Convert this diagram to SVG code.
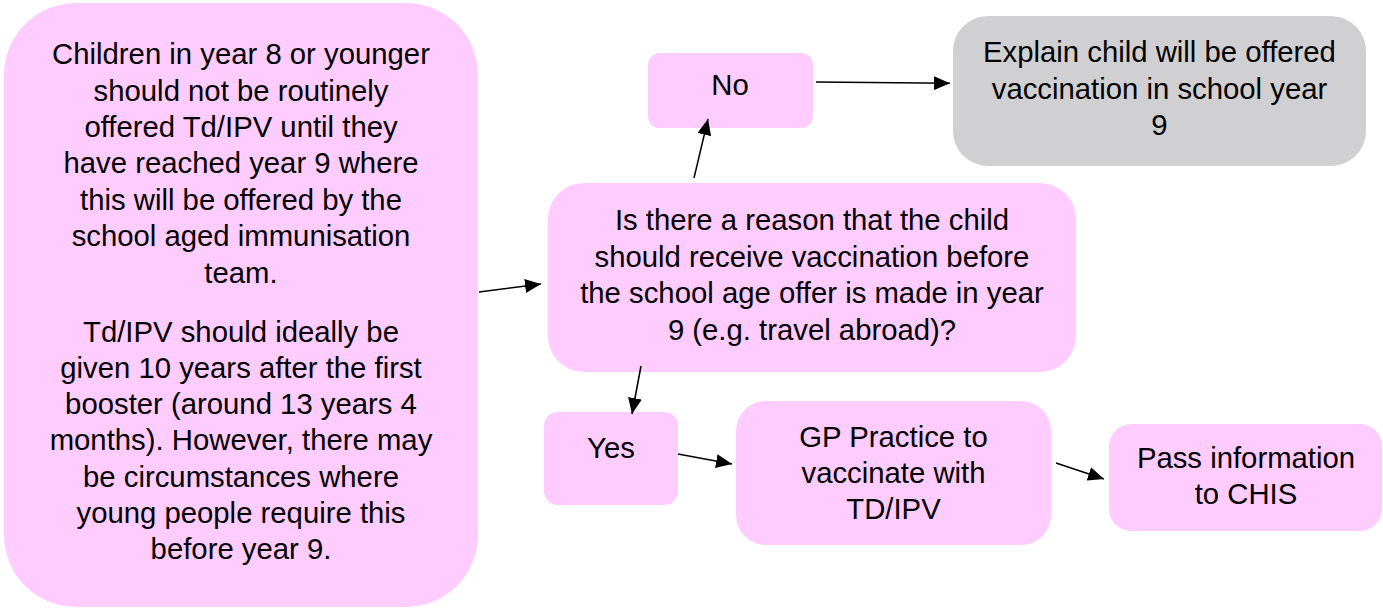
<svg xmlns="http://www.w3.org/2000/svg" width="1383" height="609" viewBox="0 0 1383 609">
<style>
.pink{fill:#ffccff;}
.gray{fill:#d0cfd1;}
text{font-family:"Liberation Sans",Arial,sans-serif;font-size:29.3px;fill:#000;text-anchor:middle;}
.conn line{stroke:#000;stroke-width:1.5;marker-end:url(#ah);}
</style>
<defs>
<marker id="ah" markerUnits="userSpaceOnUse" markerWidth="16" markerHeight="14" refX="16" refY="7" orient="auto">
<path d="M0,0 L16,7 L0,14 z" fill="#000"/>
</marker>
</defs>
<rect width="1383" height="609" fill="#fff"/>
<g id="node-info">
<rect class="pink" x="4" y="3" width="474" height="604" rx="72" ry="72"/>
<text x="241" y="64">Children in year 8 or younger</text>
<text x="241" y="101">should not be routinely</text>
<text x="241" y="137">offered Td/IPV until they</text>
<text x="241" y="173">have reached year 9 where</text>
<text x="241" y="210">this will be offered by the</text>
<text x="241" y="246">school aged immunisation</text>
<text x="241" y="283">team.</text>
<text x="241" y="342">Td/IPV should ideally be</text>
<text x="241" y="378">given 10 years after the first</text>
<text x="241" y="414">booster (around 13 years 4</text>
<text x="241" y="450">months). However, there may</text>
<text x="241" y="487">be circumstances where</text>
<text x="241" y="523">young people require this</text>
<text x="241" y="559">before year 9.</text>
</g>
<g id="node-question">
<rect class="pink" x="548" y="183" width="528" height="189" rx="36" ry="36"/>
<text x="812" y="230">Is there a reason that the child</text>
<text x="812" y="267">should receive vaccination before</text>
<text x="812" y="303">the school age offer is made in year</text>
<text x="812" y="340">9 (e.g. travel abroad)?</text>
</g>
<g id="node-no">
<rect class="pink" x="648" y="53" width="165" height="75" rx="12" ry="12"/>
<text x="730" y="95">No</text>
</g>
<g id="node-explain">
<rect class="gray" x="953" y="16" width="413" height="150" rx="35" ry="35"/>
<text x="1159.5" y="62">Explain child will be offered</text>
<text x="1159.5" y="99">vaccination in school year</text>
<text x="1159.5" y="135">9</text>
</g>
<g id="node-yes">
<rect class="pink" x="544" y="412" width="134" height="93" rx="14" ry="14"/>
<text x="611" y="458">Yes</text>
</g>
<g id="node-gp">
<rect class="pink" x="736" y="401" width="315" height="144" rx="30" ry="30"/>
<text x="893.5" y="447">GP Practice to</text>
<text x="893.5" y="483">vaccinate with</text>
<text x="893.5" y="519">TD/IPV</text>
</g>
<g id="node-chis">
<rect class="pink" x="1109" y="424" width="273" height="107" rx="22" ry="22"/>
<text x="1246" y="468">Pass information</text>
<text x="1246" y="504">to CHIS</text>
</g>
<g id="connectors" class="conn">
<line x1="479" y1="292" x2="541" y2="284"/>
<line x1="694" y1="178" x2="708" y2="119"/>
<line x1="816" y1="82" x2="950" y2="83.3"/>
<line x1="641" y1="366" x2="632" y2="414"/>
<line x1="678" y1="454" x2="732" y2="464"/>
<line x1="1056" y1="463" x2="1104" y2="479"/>
</g>
</svg>
